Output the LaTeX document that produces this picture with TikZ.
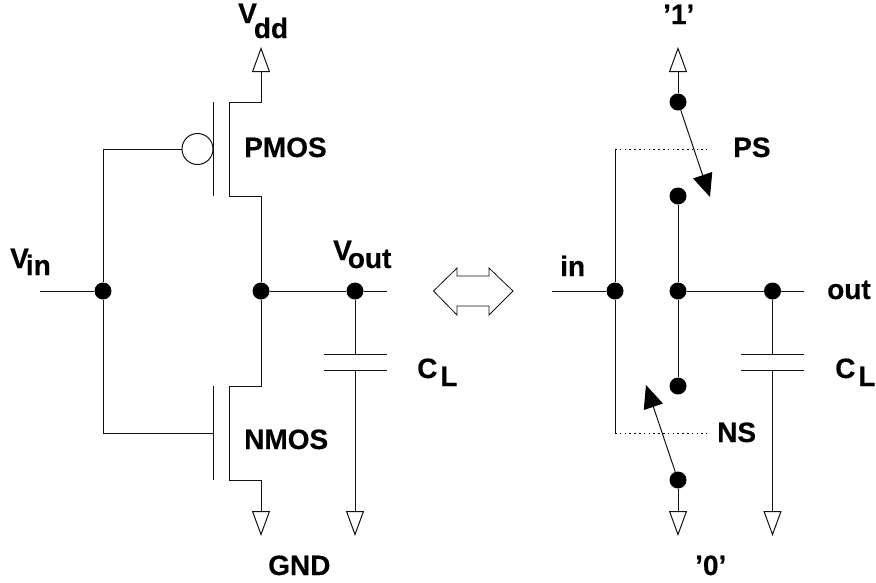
\documentclass[tikz,border=0pt]{standalone}
\usepackage{fontspec}
\setmainfont[BoldFeatures={FakeBold=0.4}]{Liberation Sans}
\usepackage{xcolor}
\usetikzlibrary{arrows.meta}
\definecolor{wire}{HTML}{111111}
\tikzset{
  base/.style={draw=wire, line width=1pt, line cap=butt, line join=miter},
  rail/.style={base, -{Triangle[open, fill=white, length=25pt, width=18pt]}},
  sw/.style={base, -{Triangle[length=23pt, width=20pt, color=black]}},
  help/.style={draw=black, line width=1pt, dash pattern=on 1.5pt off 3.3pt},
  dot/.style={circle, fill=black, inner sep=0pt, minimum size=17pt},
  bub/.style={circle, draw=wire, fill=white, line width=1pt, inner sep=0pt, minimum size=31pt},
  lab/.style={anchor=base west, inner sep=0pt, text=black, font=\fontsize{28}{30}\selectfont\bfseries},
}
\newcommand{\sublab}[4]{#1\kern#3pt\raisebox{-#4pt}{#2}}

\begin{document}
\begin{tikzpicture}[x=1pt, y=-1pt]
  \useasboundingbox (0,0) rectangle (876,582);
  % left: inverter
  \node[dot] (Lin) at (103,291) {};
  \node[dot] (Lmid) at (261,291) {};
  \node[dot] (Lout) at (355,291) {};
  \node[bub] (Lbub) at (197.5,149) {};
  \coordinate (LinEnd) at (40,291);
  \coordinate (LoutEnd) at (387,291);
  \coordinate (Lvdd) at (261,47);
  \coordinate (Lgnd) at (261,536);
  \coordinate (Lcgnd) at (355,536);
  \draw[base] (LinEnd) -- (Lin);
  \draw[base] (Lmid) -- (Lout) -- (LoutEnd);
  \draw[base] (Lin) |- (Lbub);
  \draw[base] (Lin) |- (213,433);
  % pmos
  \draw[base] (213,102) -- (213,196);
  \draw[rail] (Lmid) -- (261,196) -- (229,196) -- (229,102) -- (261,102) -- (Lvdd);
  % nmos
  \draw[base] (213,386) -- (213,480);
  \draw[rail] (Lmid) -- (261,386) -- (229,386) -- (229,480) -- (261,480) -- (Lgnd);
  % load
  \draw[base] (Lout) -- (355,354);
  \draw[base] (324,354) -- (387,354);
  \draw[base] (324,370) -- (387,370);
  \draw[rail] (355,370) -- (Lcgnd);
  % equivalence arrow
  \draw[base, line width=0.8pt] (433.5,291) -- (457,268) -- (457,276) -- (489,276) -- (489,268)
    -- (513,291) -- (489,315) -- (489,306) -- (457,306) -- (457,315) -- cycle;
  % right: switches
  \node[dot] (Rin) at (615,291) {};
  \node[dot] (Rmid) at (678,291) {};
  \node[dot] (Rout) at (772.5,291) {};
  \node[dot] (RPa) at (678,102) {};
  \node[dot] (RPb) at (678,196) {};
  \node[dot] (RNa) at (678,386) {};
  \node[dot] (RNb) at (678,480) {};
  \coordinate (RinEnd) at (552,291);
  \coordinate (RoutEnd) at (804,291);
  \coordinate (Rvdd) at (678,47);
  \coordinate (Rgnd) at (678,536);
  \coordinate (Rcgnd) at (772.5,536);
  \coordinate (RPtip) at (710,197);
  \coordinate (RNtip) at (646,385);
  \draw[base] (RinEnd) -- (Rin);
  \draw[base] (Rmid) -- (Rout) -- (RoutEnd);
  \draw[rail] (RPa) -- (Rvdd);
  \draw[rail] (RNb) -- (Rgnd);
  \draw[base] (RPb) -- (Rmid) -- (RNa);
  \draw[sw] (RPa) -- (RPtip);
  \draw[sw] (RNb) -- (RNtip);
  \draw[base] (615,149) -- (Rin) -- (615,433);
  \draw[help] (615,149) -- (707,149);
  \draw[help] (615,433) -- (707,433);
  \draw[base] (Rout) -- (772.5,354);
  \draw[base] (741,354) -- (804,354);
  \draw[base] (741,370) -- (804,370);
  \draw[rail] (772.5,370) -- (Rcgnd);
  % labels
  \node[lab] (vdd) at (238,23) {\sublab{V}{dd}{-3}{15}};
  \node[lab] (vin) at (10,268) {\sublab{V}{in}{-3}{7}};
  \node[lab] (vout) at (333,260) {\sublab{V}{out}{-4}{8}};
  \node[lab] (pmos) at (244,157) {PMOS};
  \node[lab] (nmos) at (244,449) {NMOS};
  \node[lab] (gnd) at (268,575) {GND};
  \node[lab] (cl) at (417,378) {\sublab{C}{L}{3}{8}};
  \node[lab] (one) at (663,24) {'1'};
  \node[lab] (zero) at (695,575) {'0'};
  \node[lab] (ps) at (733,157) {PS};
  \node[lab] (ns) at (717,442) {NS};
  \node[lab] (in) at (560,276) {in};
  \node[lab] (out) at (827,299) {out};
  \node[lab] (clr) at (835,378) {\sublab{C}{L}{3}{8}};
\end{tikzpicture}
\end{document}
